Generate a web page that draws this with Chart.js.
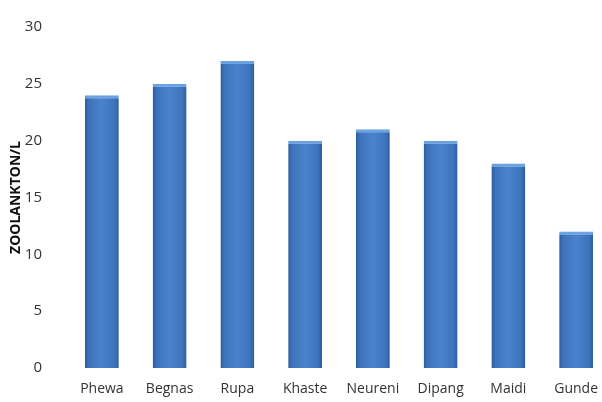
<!DOCTYPE html>
<html>
<head>
    <meta charset="UTF-8">
    <title>Zooplankton</title>
    <style>
        html, body {
            margin: 0;
            padding: 0;
            background: #fff;
            overflow: hidden;
        }
        #wrap {
            width: 620px;
            height: 402px;
        }
    </style>
</head>
<body>
<div id="wrap">
    <canvas id="zooChart" width="620" height="402"></canvas>
</div>
<script src="https://cdn.jsdelivr.net/npm/chart.js"></script>
<script>
    const sites = ['Phewa', 'Begnas', 'Rupa', 'Khaste', 'Neureni', 'Dipang', 'Maidi', 'Gunde'];
    const zooplankton = [24, 25, 27, 20, 21, 20, 18, 12];
    const yTicks = [0, 5, 10, 15, 20, 25, 30];

    // horizontal shading so each bar looks like the rounded office-style column
    function barShade(ctx) {
        const chart = ctx.chart;
        const xs = chart.scales.x;
        if (!chart.chartArea || !xs) return '#4179c2';
        const cx = xs.getPixelForValue(ctx.dataIndex);
        const half = xs.width / sites.length * 0.5 / 2;
        const g = chart.ctx.createLinearGradient(cx - half, 0, cx + half, 0);
        g.addColorStop(0, '#2d5c9c');
        g.addColorStop(0.12, '#3d73bb');
        g.addColorStop(0.5, '#4a83cd');
        g.addColorStop(0.88, '#3d73bb');
        g.addColorStop(1, '#2d5c9c');
        return g;
    }

    new Chart(document.getElementById('zooChart').getContext('2d'), {
        type: 'bar',
        data: {
            labels: sites,
            datasets: [{
                label: 'Zoolankton/L',
                data: zooplankton,
                backgroundColor: barShade,
                borderColor: '#6aa2e4',
                borderWidth: { top: 3, left: 0, right: 0, bottom: 0 },
                borderSkipped: 'bottom',
                categoryPercentage: 1,
                barPercentage: 0.5
            }]
        },
        options: {
            responsive: false,
            animation: false,
            layout: { padding: { top: 23, right: 10, left: 0, bottom: 0 } },
            plugins: {
                legend: { display: false },
                tooltip: { enabled: false }
            },
            scales: {
                x: {
                    grid: { display: false },
                    border: { display: false },
                    ticks: {
                        color: '#333',
                        padding: 5,
                        font: { family: 'Open Sans', size: 14 },
                        maxRotation: 0,
                        autoSkip: false
                    },
                    afterFit: s => { s.height = 34; }
                },
                y: {
                    min: 0,
                    max: 30,
                    grid: { display: false },
                    border: { display: false },
                    afterBuildTicks: s => { s.ticks = yTicks.map(v => ({ value: v })); },
                    ticks: {
                        color: '#333',
                        padding: 18,
                        font: { family: 'Open Sans', size: 15 }
                    },
                    title: {
                        display: true,
                        text: 'ZOOLANKTON/L',
                        color: '#111',
                        padding: { top: 8, bottom: 0 },
                        font: { family: 'Open Sans', size: 14, weight: 'bold' }
                    },
                    afterFit: s => { s.width = 68; }
                }
            }
        }
    });
</script>
</body>
</html>
